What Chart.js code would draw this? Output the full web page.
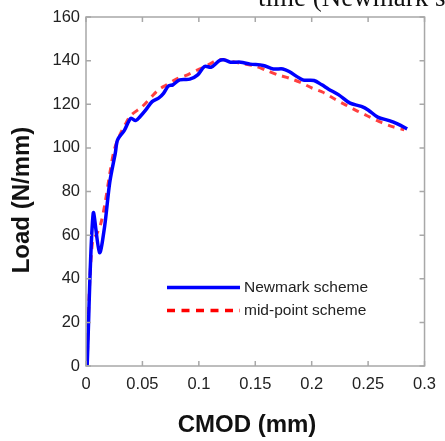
<!DOCTYPE html>
<html><head><meta charset="utf-8">
<script src="https://cdn.jsdelivr.net/npm/chart.js@4"></script>
<style>html,body{margin:0;padding:0;background:#fff}#wrap{width:445px;height:441px}</style>
</head><body><div id="wrap"><canvas id="c" width="445" height="441"></canvas></div>
<script>
const newmarkX = [0.001,0.0064,0.012,0.0165,0.021,0.026,0.028,0.034,0.0397,0.044,0.048,0.053,0.0586,0.0643,0.0687,0.073,0.077,0.083,0.092,0.099,0.105,0.111,0.118,0.122,0.128,0.137,0.1455,0.157,0.166,0.1745,0.180,0.192,0.202,0.209,0.215,0.224,0.234,0.244,0.250,0.2585,0.2687,0.276,0.2846];
const newmarkY = [0,70,52,64,84,97.7,103.7,108,113.6,112.5,114.4,117.4,121.2,122.8,125,128.4,128.9,131.2,131.5,133.5,137.3,137,139.9,140.4,139.3,139.3,138.4,137.8,136.2,136.2,135,131.2,130.9,128.9,126.9,124.3,120.5,119,117.4,114.1,112.5,111,108.7];
const midX = [0.001,0.003,0.006,0.009,0.013,0.017,0.021,0.025,0.03,0.035,0.04,0.05,0.06,0.064,0.07,0.08,0.09,0.1,0.11,0.115,0.12,0.13,0.14,0.15,0.16,0.17,0.18,0.19,0.2,0.21,0.22,0.23,0.24,0.25,0.26,0.27,0.282];
const midY = [0,35,58,60,65,75,88,99,106,111,115,119,124.5,126.5,128.5,131.5,133.5,136,138.5,140,140.5,139.5,138.5,137.5,135.5,133.5,132,130,127.5,125.5,122.5,119.7,117,114.5,112,110,108.3];
const xTicks = [0,0.05,0.1,0.15,0.2,0.25,0.3];
const yTicks = [0,20,40,60,80,100,120,140,160];
const seriesNames = ['Newmark scheme','mid-point scheme'];
const xTitle = 'CMOD (mm)';
const yTitle = 'Load (N/mm)';
const topText = 'time (Newmark s';

const pts = (xs, ys) => xs.map((x,i)=>({x:x, y:ys[i]}));

const framePlugin = {
  id:'frame',
  afterDraw(chart){
    const ctx = chart.ctx, a = chart.chartArea;
    const xs = chart.scales.x, ys = chart.scales.y;
    ctx.save();
    ctx.strokeStyle = '#a8a8a8'; ctx.lineWidth = 1.5;
    ctx.strokeRect(a.left, a.top, a.right-a.left, a.bottom-a.top);
    ctx.beginPath();
    xTicks.forEach(v=>{ const p = xs.getPixelForValue(v);
      ctx.moveTo(p,a.bottom); ctx.lineTo(p,a.bottom-5);
      ctx.moveTo(p,a.top); ctx.lineTo(p,a.top+5); });
    yTicks.forEach(v=>{ const p = ys.getPixelForValue(v);
      ctx.moveTo(a.left,p); ctx.lineTo(a.left+5,p);
      ctx.moveTo(a.right,p); ctx.lineTo(a.right-5,p); });
    ctx.stroke();
    // legend
    ctx.lineWidth = 3.5; ctx.strokeStyle = '#0000ff'; ctx.setLineDash([]);
    ctx.beginPath(); ctx.moveTo(167,287.5); ctx.lineTo(240,287.5); ctx.stroke();
    ctx.lineWidth = 3.5; ctx.strokeStyle = '#ff0000'; ctx.setLineDash([8,6.5]);
    ctx.beginPath(); ctx.moveTo(167,310.5); ctx.lineTo(240,310.5); ctx.stroke();
    ctx.setLineDash([]);
    ctx.fillStyle = '#222'; ctx.font = '15.5px "Liberation Sans", Arial, sans-serif';
    ctx.textBaseline = 'middle'; ctx.textAlign = 'left';
    ctx.fillText(seriesNames[0], 244, 288);
    ctx.fillText(seriesNames[1], 244, 311);
    // titles
    ctx.fillStyle = '#111';
    ctx.font = 'bold 24px "Liberation Sans", Arial, sans-serif';
    ctx.textAlign = 'center';
    ctx.fillText(xTitle, 247, 425);
    ctx.save();
    ctx.translate(22, 200); ctx.rotate(-Math.PI/2);
    ctx.font = 'bold 24px "Liberation Sans", Arial, sans-serif';
    ctx.fillText(yTitle, 0, 0);
    ctx.restore();
    ctx.font = '27px "Liberation Serif", "Times New Roman", serif';
    ctx.textAlign = 'left'; ctx.textBaseline = 'alphabetic';
    ctx.fillText(topText, 258, 6);
    ctx.restore();
  }
};

new Chart(document.getElementById('c'), {
  type:'line',
  data:{ datasets:[
    { label:seriesNames[0], data:pts(newmarkX,newmarkY), borderColor:'#0000ff', borderWidth:3.5, pointRadius:0, tension:0.3, order:1 },
    { label:seriesNames[1], data:pts(midX,midY), borderColor:'rgba(255,30,30,0.85)', borderWidth:3, borderDash:[7,6], pointRadius:0, tension:0.3, order:2 }
  ]},
  options:{
    responsive:false, animation:false,
    layout:{ padding:{ top:17, right:14, left:0, bottom:0 } },
    plugins:{ legend:{display:false}, tooltip:{enabled:false} },
    scales:{
      x:{ type:'linear', min:0, max:0.3,
        afterBuildTicks: s => { s.ticks = xTicks.map(v=>({value:v})); },
        afterFit: s => { s.height = 75; },
        grid:{display:false, drawTicks:false}, border:{display:false},
        ticks:{ padding:9, color:'#222', font:{family:'"Liberation Sans", Arial, sans-serif', size:16.5}, maxRotation:0,
          callback: v => String(v) } },
      y:{ type:'linear', min:0, max:160,
        afterBuildTicks: s => { s.ticks = yTicks.map(v=>({value:v})); },
        afterFit: s => { s.width = 86; },
        grid:{display:false, drawTicks:false}, border:{display:false},
        ticks:{ padding:6, color:'#222', font:{family:'"Liberation Sans", Arial, sans-serif', size:16.5} } }
    }
  },
  plugins:[framePlugin]
});
</script></body></html>
